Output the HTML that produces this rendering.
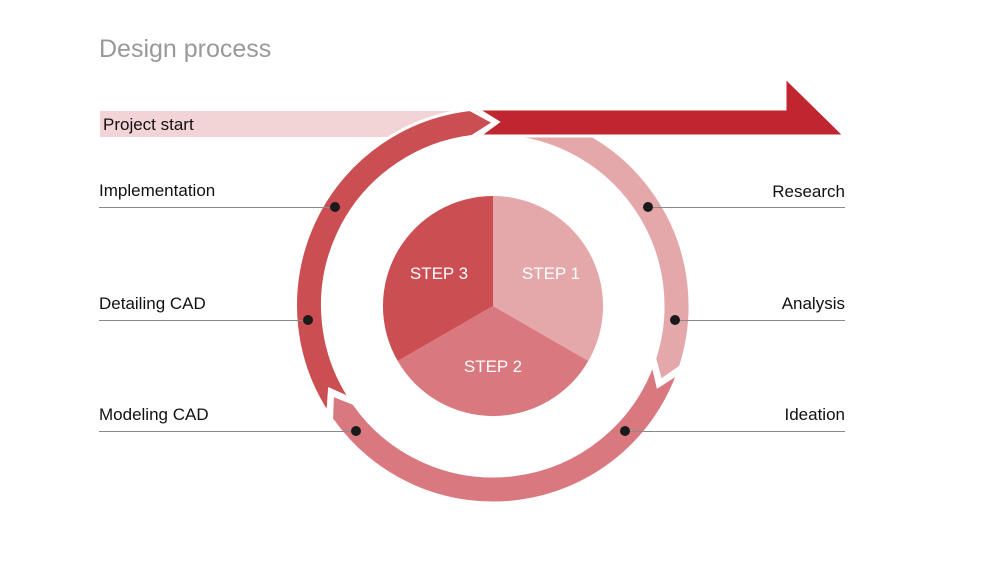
<!DOCTYPE html>
<html><head><meta charset="utf-8"><style>
html,body{margin:0;padding:0;background:#fff;}
body{width:1000px;height:562px;position:relative;overflow:hidden;font-family:"Liberation Sans",sans-serif;}
.t{position:absolute;font-size:17px;color:#111;white-space:nowrap;}
</style></head><body>
<svg width="1000" height="562" style="position:absolute;left:0;top:0">
<rect x="100" y="111" width="380" height="26" fill="#f3d4d6"/>
<g stroke="#fff" stroke-width="3" stroke-linejoin="miter">
<path fill="#e4a8aa" d="M499.9,109.1 A197,197 0 0 1 680.4,366.9 L660.6,380.6 L654.7,358.5 A170,170 0 0 0 498.9,136.1 L518.5,124.3 Z"/>
<path fill="#d9797f" d="M678.1,373.4 A197,197 0 0 1 331.6,419.0 L332.5,395.0 L353.7,403.5 A170,170 0 0 0 652.7,364.1 L657.9,386.4 Z"/>
<path fill="#cb4e53" d="M327.8,413.3 A197,197 0 0 1 470,109.5 L494,122.5 L472,136.5 A170,170 0 0 0 350.4,398.6 L329.5,389.3 Z"/>
<path fill="#c0262f" d="M477,109 L785,109 L785,77 L845,136 L479,136 L498,122 Z"/>
</g>
<g stroke="#8a8a8a" stroke-width="1">
<line x1="99" y1="207.5" x2="335" y2="207.5"/><line x1="99" y1="320.5" x2="308" y2="320.5"/><line x1="99" y1="431.5" x2="356" y2="431.5"/>
<line x1="648" y1="207.5" x2="845" y2="207.5"/><line x1="675" y1="320.5" x2="845" y2="320.5"/><line x1="625" y1="431.5" x2="845" y2="431.5"/>
</g>
<path fill="#e4a8aa" d="M493,306 L493,196 A110,110 0 0 1 588.3,361 Z"/>
<path fill="#d9797f" d="M493,306 L588.3,361 A110,110 0 0 1 397.7,361 Z"/>
<path fill="#cb4e53" d="M493,306 L397.7,361 A110,110 0 0 1 493,196 Z"/>
<g fill="#1a1a1a">
<circle cx="335" cy="207" r="5"/><circle cx="308" cy="320" r="5"/><circle cx="356" cy="431" r="5"/>
<circle cx="648" cy="207" r="5"/><circle cx="675" cy="320" r="5"/><circle cx="625" cy="431" r="5"/>
</g>
<g fill="#fff" font-family="Liberation Sans, sans-serif" font-size="17" text-anchor="middle">
<text x="439" y="279">STEP 3</text><text x="551" y="279">STEP 1</text><text x="493" y="372">STEP 2</text>
</g>
</svg>
<div class="t" style="left:99px;top:35px;font-size:25px;color:#999;">Design process</div>
<div class="t" style="left:103px;top:115px;">Project start</div>
<div class="t" style="left:99px;top:181px;">Implementation</div>
<div class="t" style="left:99px;top:294px;">Detailing CAD</div>
<div class="t" style="left:99px;top:405px;">Modeling CAD</div>
<div class="t" style="right:155px;top:182px;">Research</div>
<div class="t" style="right:155px;top:294px;">Analysis</div>
<div class="t" style="right:155px;top:405px;">Ideation</div>
</body></html>
